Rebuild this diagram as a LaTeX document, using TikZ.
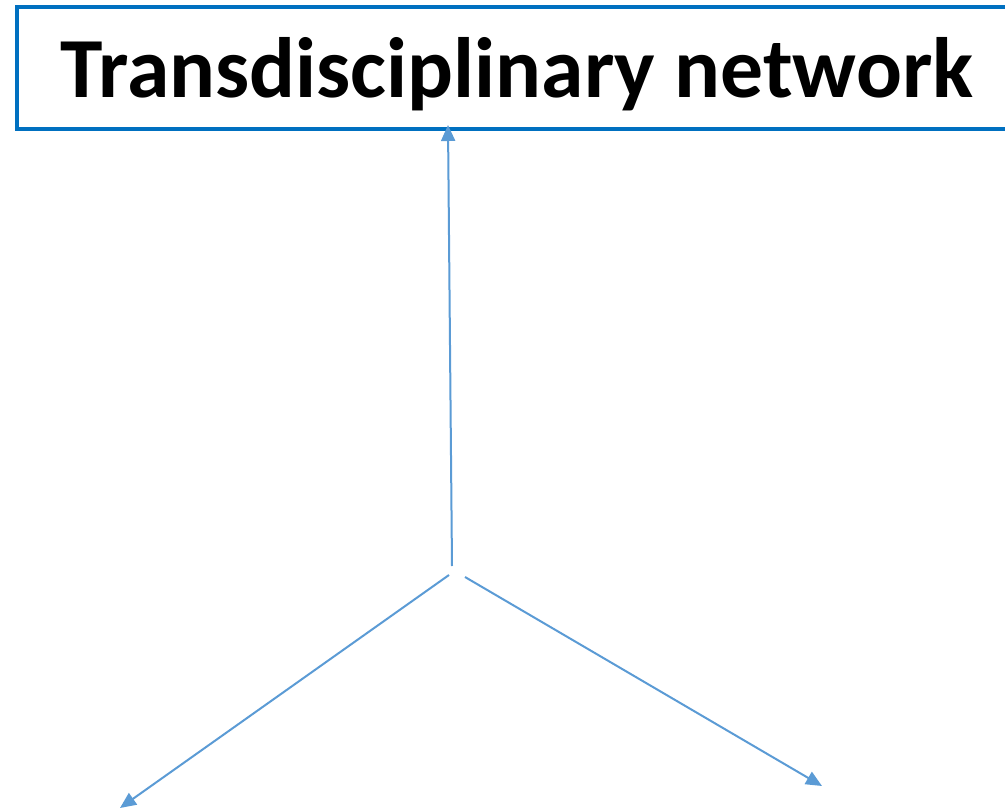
\documentclass[tikz,border=0pt]{standalone}
\usepackage{fontspec}
\setmainfont{Carlito}
\usetikzlibrary{arrows.meta}
\definecolor{boxblue}{HTML}{0070C0}
\definecolor{linkblue}{HTML}{5B9BD5}
\tikzset{
  titlebox/.style={draw=boxblue, line width=4.5pt, minimum width=1000pt, minimum height=122pt, inner sep=0pt},
  titletext/.style={font=\fontsize{85.6}{100}\selectfont\bfseries, inner sep=0pt, anchor=base},
  link/.style={draw=linkblue, line width=2pt, -{Triangle[width=14pt,length=16pt]}}
}
\begin{document}
\begin{tikzpicture}[x=1pt,y=-1pt]
\useasboundingbox (0,0) rectangle (1005,808);
\clip (0,0) rectangle (1005,808);
\node[titlebox] (box) at (517,68) {};
\node[titletext] (title) at (517,98) {Transdisciplinary network};
\coordinate (up0) at (452,566);
\coordinate (up1) at (448,125);
\coordinate (l0) at (449,575);
\coordinate (l1) at (120,808);
\coordinate (r0) at (465,577);
\coordinate (r1) at (822,786);
\draw[link] (up0) -- (up1);
\draw[link] (l0) -- (l1);
\draw[link] (r0) -- (r1);
\end{tikzpicture}
\end{document}
